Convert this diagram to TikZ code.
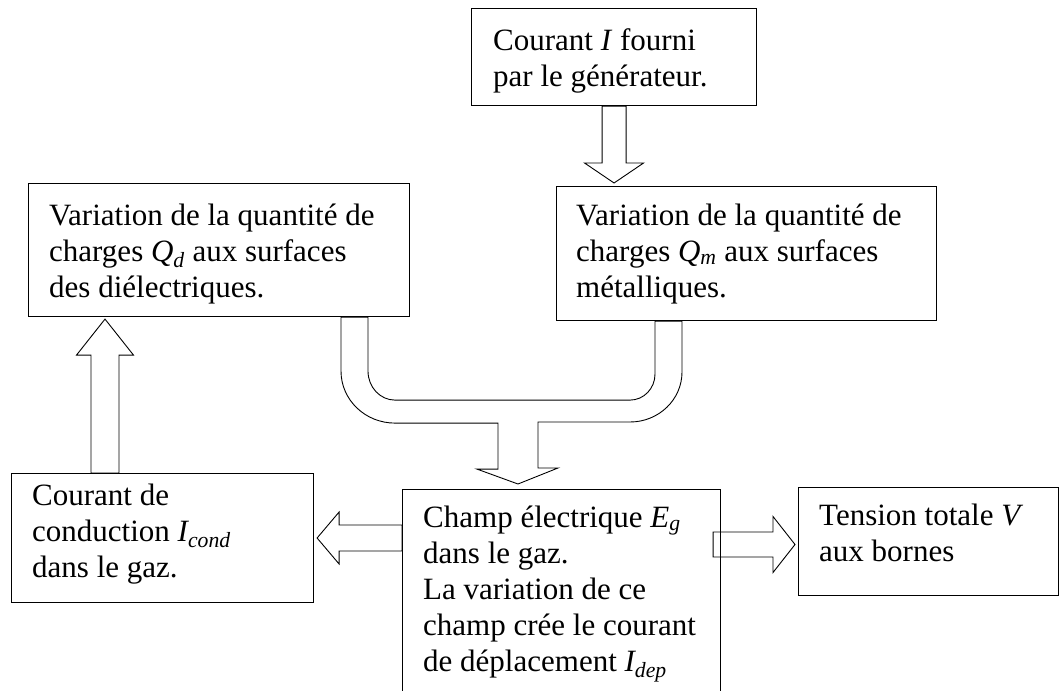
\documentclass[tikz,border=0pt]{standalone}
\usepackage{fontspec}
\setmainfont{Liberation Serif}
\usetikzlibrary{calc}

\tikzset{
  box/.style={draw, line width=1.1pt, anchor=north west, inner sep=0pt},
  txt/.style={anchor=north west, inner sep=0pt, align=left, font=\fontsize{31}{36}\selectfont},
  hollow/.style={draw, line width=0.9pt, line join=miter}
}

% hollow block arrow: start, end, half shaft, half head, head length
\newcommand\blockarrow[5]{%
  \draw[hollow] ($(#1)!#3!90:(#2)$) -- ($(#2)!#5!(#1)!#3!90:(#2)$)
    -- ($(#2)!#5!(#1)!#4!90:(#2)$) -- (#2)
    -- ($(#2)!#5!(#1)!#4!-90:(#2)$) -- ($(#2)!#5!(#1)!#3!-90:(#2)$)
    -- ($(#1)!#3!-90:(#2)$) -- cycle;}

\begin{document}
\begin{tikzpicture}[x=1pt, y=-1pt]
\useasboundingbox (0,0) rectangle (1059,690);
\clip (0,0) rectangle (1059,690);

% boxes
\node[box, minimum width=285pt, minimum height=97pt] (gen) at (471,8) {};
\node[box, minimum width=381pt, minimum height=133pt] (qd) at (28,183) {};
\node[box, minimum width=380pt, minimum height=134pt] (qm) at (556,186) {};
\node[box, minimum width=302pt, minimum height=129pt] (cond) at (11,473) {};
\node[box, minimum width=318pt, minimum height=231pt] (champ) at (402,489) {};
\node[box, minimum width=260pt, minimum height=108pt] (tens) at (798,487) {};

% texts
\node[txt] (gen-t) at ([shift={(22,16.8)}]gen.north west)
  {\strut Courant \textit{I} fourni\\par le générateur.};
\node[txt] (qd-t) at ([shift={(21,16.8)}]qd.north west)
  {\strut Variation de la quantité de\\charges \textit{Q\textsubscript{d}} aux surfaces\\des diélectriques.};
\node[txt] (qm-t) at ([shift={(20,13.8)}]qm.north west)
  {\strut Variation de la quantité de\\charges \textit{Q\textsubscript{m}} aux surfaces\\métalliques.};
\node[txt] (cond-t) at ([shift={(21,6.8)}]cond.north west)
  {\strut Courant de\\conduction \textit{I\textsubscript{cond}}\\dans le gaz.};
\node[txt] (champ-t) at ([shift={(21,12.8)}]champ.north west)
  {\strut Champ électrique \textit{E\textsubscript{g}}\\dans le gaz.\\La variation de ce\\champ crée le courant\\de déplacement \textit{I\textsubscript{dep}}};
\node[txt] (tens-t) at ([shift={(21,12.8)}]tens.north west)
  {\strut Tension totale \textit{V}\\aux bornes};

% straight arrows
\coordinate (gen-out) at (gen.south);
\coordinate (qm-in) at ($(gen.south |- qm.north)+(0,-3)$);
\blockarrow{gen-out}{qm-in}{12pt}{29.5pt}{20pt}

\coordinate (cond-out) at ([shift={(94,0)}]cond.north west);
\coordinate (qd-in) at ($(cond-out |- qd.south)+(0,2)$);
\blockarrow{cond-out}{qd-in}{14pt}{28.5pt}{36pt}

\coordinate (champ-w) at ([shift={(0,49)}]champ.north west);
\coordinate (cond-in) at ($(champ-w -| cond.east)+(3,0)$);
\blockarrow{champ-w}{cond-in}{13pt}{26pt}{22pt}

\coordinate (champ-e) at ([shift={(-8,55.5)}]champ.north east);
\coordinate (tens-in) at ($(champ-e -| tens.west)+(-3,0)$);
\blockarrow{champ-e}{tens-in}{12.5pt}{28pt}{22pt}

% merging arrow
\coordinate (qd-out) at ([shift={(313,0)}]qd.south west);
\coordinate (qm-out) at ([shift={(126,0)}]qm.south west);
\coordinate (champ-in) at ([shift={(116,-5)}]champ.north west);
\draw[hollow] (qd-out) -- ++(0,54)
  arc[start angle=180, end angle=90, x radius=54, y radius=52]
  -- ++(103,0) -- ++(0,46) -- ++(-21,0) -- (champ-in) -- ++(40,-16) -- ++(-20,0)
  -- ++(0,-46) -- ++(92,0)
  arc[start angle=90, end angle=0, x radius=52, y radius=50]
  -- (qm-out) -- ++(-27,0) -- ++(0,53)
  arc[start angle=0, end angle=90, x radius=25, y radius=26]
  -- ++(-235,0)
  arc[start angle=90, end angle=180, x radius=27, y radius=29]
  -- ++(0,-54) -- cycle;
\end{tikzpicture}
\end{document}
